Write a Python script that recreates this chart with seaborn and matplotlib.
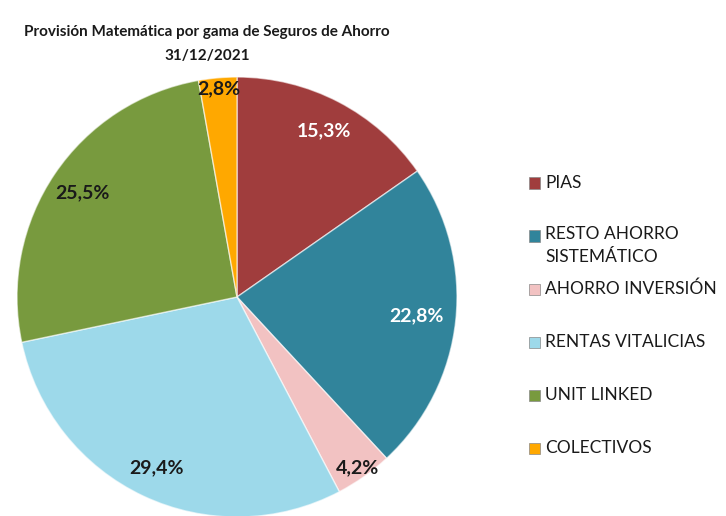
import matplotlib
matplotlib.use("Agg")
import matplotlib.pyplot as plt
import seaborn as sns
import numpy as np
from matplotlib.patches import Rectangle

categories = ["PIAS", "RESTO AHORRO\nSISTEMÁTICO", "AHORRO INVERSIÓN",
              "RENTAS VITALICIAS", "UNIT LINKED", "COLECTIVOS"]
values = [15.3, 22.8, 4.2, 29.4, 25.5, 2.8]
pct_labels = ["15,3%", "22,8%", "4,2%", "29,4%", "25,5%", "2,8%"]
title_lines = ["Provisión Matemática por gama de Seguros de Ahorro", "31/12/2021"]

colors = ["#A03D3D", "#31849B", "#F2C2C2", "#9DD9EA", "#789A3E", "#FFA800"]
label_colors = ["white", "white", "#1a1a1a", "#1a1a1a", "#1a1a1a", "#1a1a1a"]
label_dist = [0.85, 0.82, 0.95, 0.86, 0.85, 0.95]

sns.set_theme(style="white")
FONT = ["Lato", "DejaVu Sans"]
plt.rcParams["font.family"] = FONT

W, H = 726, 516
fig = plt.figure(figsize=(W / 100, H / 100), dpi=100)

cx, cy, r = 237, 297, 220
ax = fig.add_axes([(cx - r) / W, (H - cy - r) / H, 2 * r / W, 2 * r / H])
wedges, _ = ax.pie(values, colors=colors, startangle=90, counterclock=False,
                   radius=1, wedgeprops=dict(edgecolor=(1, 1, 1, 0.6), linewidth=1.0))
ax.set_xlim(-1, 1)
ax.set_ylim(-1, 1)
ax.set_aspect("equal")
ax.axis("off")

# percentage labels
cum = 0.0
total = sum(values)
for v, lab, col, d in zip(values, pct_labels, label_colors, label_dist):
    mid = (cum + v / 2) / total * 360
    cum += v
    ang = np.deg2rad(90 - mid)
    ax.text(d * np.cos(ang), d * np.sin(ang), lab, ha="center", va="center",
            fontsize=14, fontweight="bold", color=col)

# title
fig.text(207 / W, 1 - 32 / H, title_lines[0], ha="center", va="center",
         fontsize=11, fontweight="bold", color="#1a1a1a")
fig.text(207 / W, 1 - 56 / H, title_lines[1], ha="center", va="center",
         fontsize=11, fontweight="bold", color="#1a1a1a")

# legend (manual, Excel-like spacing)
for i, (lab, col) in enumerate(zip(categories, colors)):
    y = 183 + 53 * i
    sq = 11
    fig.patches.append(Rectangle((529 / W, (H - y - sq / 2) / H), sq / W, sq / H,
                                 transform=fig.transFigure, facecolor=col,
                                 edgecolor="#888888", linewidth=0.5))
    if "\n" in lab:
        fig.text(545 / W, 1 - (y - 10) / H, lab, ha="left", va="top",
                 fontsize=12.5, color="#1a1a1a", linespacing=1.55)
    else:
        fig.text(545 / W, 1 - y / H, lab, ha="left", va="center",
                 fontsize=12.5, color="#1a1a1a")

fig.savefig("out.png", dpi=100)
